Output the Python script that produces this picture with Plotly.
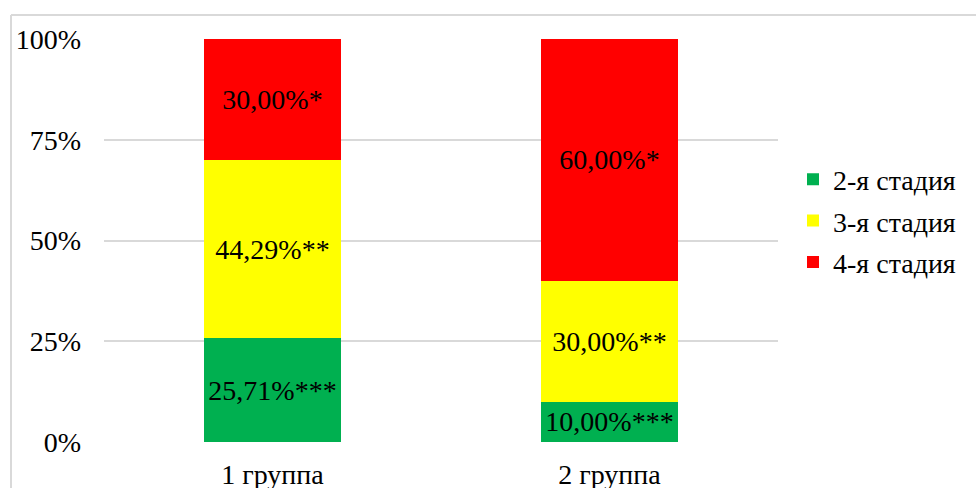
import plotly.graph_objects as go

# Stage distribution by group (share of patients, %)
groups = ["1 группа", "2 группа"]
stages = ["2-я стадия", "3-я стадия", "4-я стадия"]
stage2 = [25.71, 10.00]
stage3 = [44.29, 30.00]
stage4 = [30.00, 60.00]
marks = ["***", "**", "*"]
colors = ["#00B050", "#FFFF00", "#FF0000"]
y_ticks = [0, 25, 50, 75, 100]

FONT = "Liberation Serif, Times New Roman, serif"

fig = go.Figure()
for name, vals, mark, col in zip(stages, [stage2, stage3, stage4], marks, colors):
    labels = [f"{v:.2f}".replace(".", ",") + "%" + mark for v in vals]
    fig.add_trace(go.Bar(
        x=groups, y=vals, name=name, legendgroup=name,
        marker=dict(color=col, line=dict(width=0)),
        text=labels, textposition="inside", insidetextanchor="middle",
        textangle=0, constraintext="none",
        textfont=dict(family=FONT, size=28, color="black"),
        hoverinfo="skip",
    ))

W, H = 976, 488
ml, mr, mt, mb = 104, 198, 39, 46
pw, ph = W - ml - mr, H - mt - mb

fig.update_layout(
    width=W, height=H,
    margin=dict(l=ml, r=mr, t=mt, b=mb, autoexpand=False),
    barmode="stack", bargap=0.593,
    paper_bgcolor="white", plot_bgcolor="white",
    font=dict(family=FONT, size=28, color="black"),
    uniformtext=dict(mode=False),
    legend=dict(
        x=(793 - ml) / pw, xanchor="left",
        y=(mt + ph - 221) / ph, yanchor="middle",
        traceorder="grouped", tracegroupgap=2,
        font=dict(family=FONT, size=28, color="black"),
        itemwidth=30, bgcolor="rgba(0,0,0,0)",
    ),
    xaxis=dict(showgrid=False, showline=False, ticks="", automargin=False,
               tickfont=dict(family=FONT, size=28), ticklabelstandoff=13),
    yaxis=dict(range=[0, 100], tickvals=y_ticks, automargin=False,
               ticktext=[f"{t}%" for t in y_ticks],
               showgrid=True, gridcolor="#D9D9D9", gridwidth=2,
               zeroline=False, showline=False, ticks="",
               tickfont=dict(family=FONT, size=28), ticklabelstandoff=22),
    shapes=[
        # outer chart frame
        dict(type="line", xref="paper", yref="paper",
             x0=(11 - ml) / pw, x1=(W + 5 - ml) / pw,
             y0=(mt + ph - 15) / ph, y1=(mt + ph - 15) / ph,
             line=dict(color="#D9D9D9", width=2)),
        dict(type="line", xref="paper", yref="paper",
             x0=(11 - ml) / pw, x1=(11 - ml) / pw,
             y0=(mt + ph - 15) / ph, y1=-0.3,
             line=dict(color="#D9D9D9", width=2)),
    ],
)

fig.write_html("out.html")
